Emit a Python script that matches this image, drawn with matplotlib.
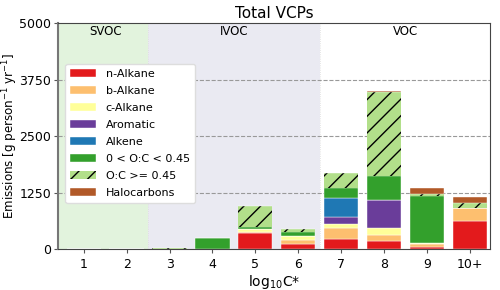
import numpy as np
import matplotlib
matplotlib.use('Agg')
import matplotlib.pyplot as plt

# volatility bins (log10 C*)
bins = ['1', '2', '3', '4', '5', '6', '7', '8', '9', '10+']

# emissions per class [g person^-1 yr^-1]
n_alkane = [0, 0, 0, 0, 370, 125, 236, 184, 51, 626]
b_alkane = [0, 0, 0, 0, 10, 75, 244, 125, 59, 287]
c_alkane = [0, 0, 0, 0, 80, 87, 73, 162, 38, 0]
aromatic = [0, 0, 0, 0, 0, 0, 154, 612, 0, 0]
alkene = [0, 0, 0, 0, 0, 0, 427, 0, 0, 0]
oc_low = [0, 5, 0, 245, 40, 96, 221, 537, 1023, 10]
oc_high = [0, 0, 25, 0, 470, 57, 332, 1856, 44, 109]
halocarbons = [0, 0, 0, 0, 0, 0, 0, 35, 140, 117]

series = [
    ('n-Alkane', n_alkane, '#e31a1c', None),
    ('b-Alkane', b_alkane, '#fdbf6f', None),
    ('c-Alkane', c_alkane, '#ffff99', None),
    ('Aromatic', aromatic, '#6a3d9a', None),
    ('Alkene', alkene, '#1f78b4', None),
    ('0 < O:C < 0.45', oc_low, '#33a02c', None),
    ('O:C >= 0.45', oc_high, '#b2df8a', '//'),
    ('Halocarbons', halocarbons, '#b15928', None),
]

plt.rcParams['hatch.linewidth'] = 1.0

fig, ax = plt.subplots(figsize=(5.0, 2.9), dpi=100)
fig.subplots_adjust(left=0.116, right=0.98, top=0.92, bottom=0.14)

x = np.arange(len(bins))

# volatility regimes
ax.axvspan(-0.6, 1.5, color='#e2f3dd', zorder=0, lw=0)
ax.axvspan(1.5, 5.5, color='#eaeaf2', zorder=0, lw=0)
ax.axvline(1.5, color='#dddddd', lw=0.6, ls=':', zorder=0.5)
ax.axvline(5.5, color='#dddddd', lw=0.6, ls=':', zorder=0.5)
for xc, name in [(0.5, 'SVOC'), (3.5, 'IVOC'), (7.5, 'VOC')]:
    ax.text(xc, 4950, name, ha='center', va='top', fontsize=8.5)

for yv in [1250, 2500, 3750]:
    ax.axhline(yv, color='#999999', lw=0.8, ls='--', zorder=0.8)

bottom = np.zeros(len(bins))
for label, vals, color, hatch in series:
    vals = np.array(vals, dtype=float)
    ax.bar(x, vals, width=0.8, bottom=bottom, color=color, label=label,
           hatch=hatch, edgecolor='white' if hatch is None else 'black',
           linewidth=0.3 if hatch is None else 0, zorder=2)
    bottom += vals

ax.set_xlim(-0.6, 9.47)
ax.set_ylim(0, 5000)
ax.set_xticks(x)
ax.set_xticklabels(bins, fontsize=9)
ax.set_yticks([0, 1250, 2500, 3750, 5000])
ax.tick_params(axis='y', labelsize=9, length=3, color='#555555', pad=2)
ax.tick_params(axis='x', length=3, color='#555555')
ax.set_xlabel('log$_{10}$C*', fontsize=10, labelpad=1)
ax.set_ylabel('Emissions [g person$^{-1}$ yr$^{-1}$]', fontsize=8.6)
ax.yaxis.set_label_coords(-0.088, 0.5)
ax.set_title('Total VCPs', fontsize=11, pad=4)

for side in ['top', 'right', 'bottom']:
    ax.spines[side].set_color('#444444')
    ax.spines[side].set_linewidth(0.8)
ax.spines['left'].set_color('#777777')
ax.spines['left'].set_linewidth(1.5)

leg = ax.legend(loc='upper left', bbox_to_anchor=(0.004, 0.845), fontsize=8,
                frameon=True, fancybox=True, handlelength=2.3, handleheight=0.8,
                labelspacing=0.62, borderpad=0.45, handletextpad=0.9)
leg.get_frame().set_edgecolor('#dddddd')
leg.get_frame().set_facecolor('white')
leg.get_frame().set_alpha(1.0)

plt.savefig('out.png', dpi=100)
